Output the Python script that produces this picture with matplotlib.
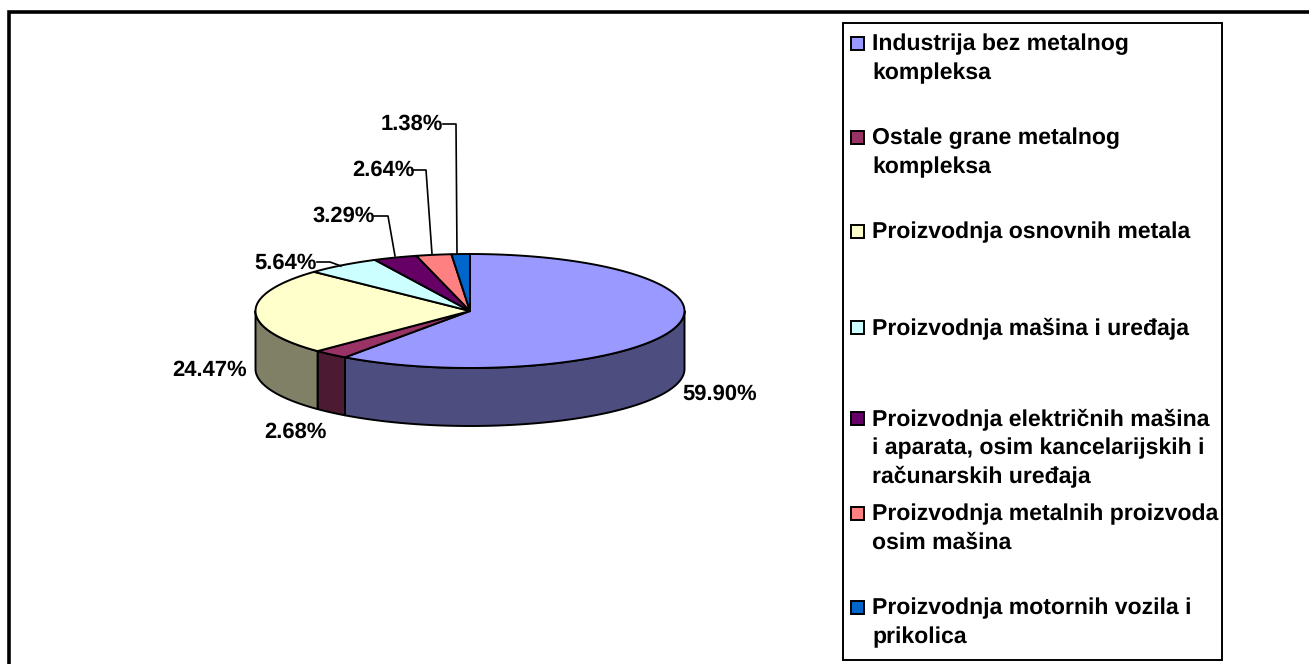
import numpy as np
import matplotlib
matplotlib.use("Agg")
import matplotlib.pyplot as plt
from matplotlib.patches import Rectangle

# ── Data ─────────────────────────────────────────────────────────────────────
VALUES = [59.90, 2.68, 24.47, 5.64, 3.29, 2.64, 1.38]
LABELS = ["59.90%", "2.68%", "24.47%", "5.64%", "3.29%", "2.64%", "1.38%"]
LEGEND = [
    ["Industrija bez metalnog", "kompleksa"],
    ["Ostale grane metalnog", "kompleksa"],
    ["Proizvodnja osnovnih metala"],
    ["Proizvodnja mašina i uređaja"],
    ["Proizvodnja električnih mašina", "i aparata, osim kancelarijskih i", "računarskih uređaja"],
    ["Proizvodnja metalnih proizvoda", "osim mašina"],
    ["Proizvodnja motornih vozila i", "prikolica"],
]
TOP_COLORS = ["#9999ff", "#993366", "#ffffcc", "#ccffff", "#660066", "#ff8080", "#0066cc"]
SIDE_COLORS = ["#4d4d80", "#4d1a33", "#808066", "#668080", "#330033", "#804040", "#003366"]

# ── Layout (pixels) ──────────────────────────────────────────────────────────
W, H = 1309, 664
CX, CY, RX, RY, DEPTH = 470, 311, 214.5, 57, 58
LABEL_POS = [(720, 394), (295, 432), (210, 370), (286, 263), (344, 216), (383, 170), (412, 124)]
LEADERS = {
    3: [(317, 262), (330, 262), (341, 266)],
    4: [(374, 216), (388, 216), (395, 256)],
    5: [(412, 170), (426, 170), (432, 254)],
    6: [(443, 124), (456, 124), (457, 254)],
}
LEGEND_Y = [43, 137, 231, 327, 418, 513, 607]
LINE_STEP = 28.5
LEGEND_FS = 16.45
LABEL_FS = 15.5

plt.rcParams["font.family"] = ["Liberation Sans", "DejaVu Sans"]
plt.rcParams["text.hinting"] = "no_hinting"
plt.rcParams["text.hinting_factor"] = 1

fig = plt.figure(figsize=(W / 100, H / 100), dpi=100)
ax = fig.add_axes([0, 0, 1, 1])
ax.set_xlim(0, W)
ax.set_ylim(H, 0)
ax.axis("off")


def rim(theta):
    return CX + RX * np.sin(theta), CY - RY * np.cos(theta)


edges = np.radians(np.concatenate([[0], np.cumsum(VALUES)]) * 3.6)

# chart border, only left and top stay inside the crop
ax.plot([9, 9, W + 5], [H + 5, 12, 12], color="black", lw=2.6, solid_joinstyle="miter")

# side walls, only the front half of the rim is visible
for i in range(len(VALUES)):
    a = max(edges[i], np.pi / 2)
    b = min(edges[i + 1], 3 * np.pi / 2)
    if a >= b:
        continue
    t = np.linspace(a, b, 80)
    x, y = rim(t)
    ax.fill(np.r_[x, x[::-1]], np.r_[y, y[::-1] + DEPTH], facecolor=SIDE_COLORS[i],
            edgecolor="black", lw=1.4, joinstyle="round", zorder=2)

# top face
for i in range(len(VALUES)):
    t = np.linspace(edges[i], edges[i + 1], 120)
    x, y = rim(t)
    ax.fill(np.r_[CX, x], np.r_[CY, y], facecolor=TOP_COLORS[i],
            edgecolor="black", lw=1.4, joinstyle="round", zorder=3)

# data labels and leaders
for text, (lx, ly) in zip(LABELS, LABEL_POS):
    ax.text(lx, ly, text, ha="center", va="center", fontsize=LABEL_FS,
            fontweight="bold", color="black", zorder=5)
for pts in LEADERS.values():
    ax.plot(*zip(*pts), color="black", lw=1.2, zorder=4)

# legend
ax.add_patch(Rectangle((843, 23), 379, 637, facecolor="white", edgecolor="black", lw=1.4, zorder=1))
for lines, color, y in zip(LEGEND, TOP_COLORS, LEGEND_Y):
    ax.add_patch(Rectangle((851, y - 6), 13, 13, facecolor=color, edgecolor="black", lw=1.4, zorder=4))
    for n, line in enumerate(lines):
        ax.text(872, y + 7.5 + n * LINE_STEP, line, ha="left", va="baseline", fontsize=LEGEND_FS,
                fontweight="bold", color="black", zorder=5)

fig.savefig("out.png", dpi=100)
